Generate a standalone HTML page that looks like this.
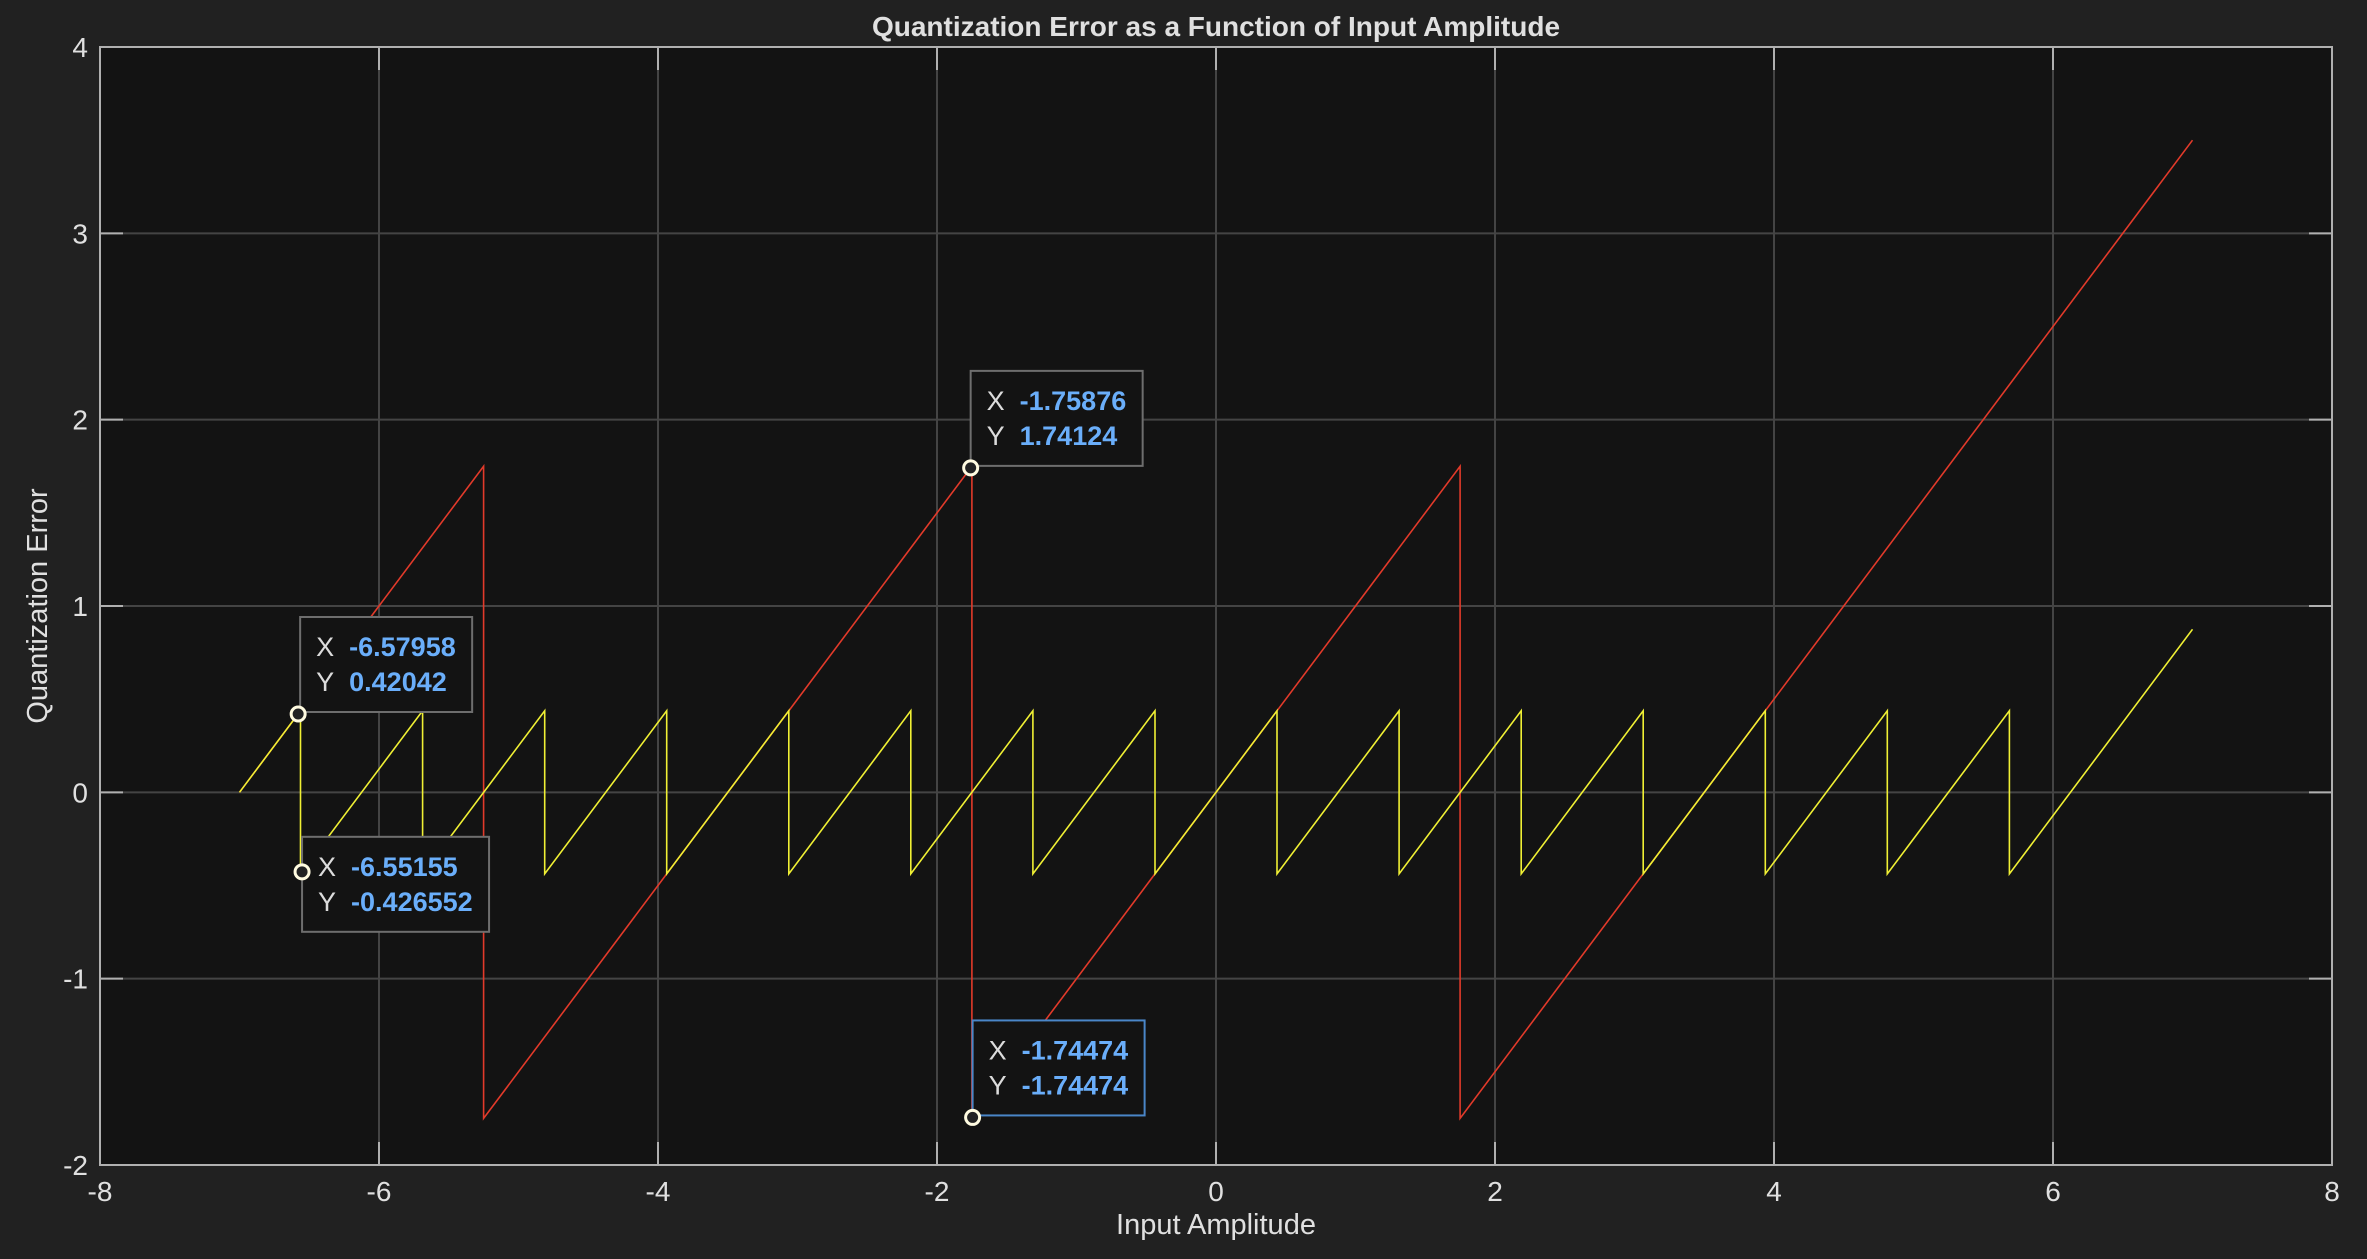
<!DOCTYPE html>
<html><head><meta charset="utf-8">
<style>
html,body{margin:0;padding:0;background:#212121;}
svg{display:block;font-family:"Liberation Sans",Arial,sans-serif;}
</style></head>
<body>
<svg id="chart" width="2367" height="1259" viewBox="0 0 2367 1259" xmlns="http://www.w3.org/2000/svg">
<rect x="0" y="0" width="2367" height="1259" fill="#212121"/>
<rect x="100" y="47" width="2232" height="1118" fill="#131313"/>
<g id="grid"></g>
<g id="series"></g>
<rect x="100" y="47" width="2232" height="1118" fill="none" stroke="#b0b0b0" stroke-width="2"/>
<g id="ticks"></g>
<text x="1216" y="36" text-anchor="middle" fill="#e0e0e0" font-size="28" font-weight="bold">Quantization Error as a Function of Input Amplitude</text>
<text x="1216" y="1234" text-anchor="middle" fill="#e0e0e0" font-size="29">Input Amplitude</text>
<text x="0" y="0" transform="translate(47,606) rotate(-90)" text-anchor="middle" fill="#e0e0e0" font-size="29">Quantization Error</text>
<g id="tips"></g>
</svg>
<script>
const xTicks = [-8,-6,-4,-2,0,2,4,6,8];
const yTicks = [-2,-1,0,1,2,3,4];
const yellowX = [-7,-6.5625,-6.5625,-5.6875,-5.6875,-4.8125,-4.8125,-3.9375,-3.9375,-3.0625,-3.0625,-2.1875,-2.1875,-1.3125,-1.3125,-0.4375,-0.4375,0.4375,0.4375,1.3125,1.3125,2.1875,2.1875,3.0625,3.0625,3.9375,3.9375,4.8125,4.8125,5.6875,5.6875,7];
const yellowY = [0,0.4375,-0.4375,0.4375,-0.4375,0.4375,-0.4375,0.4375,-0.4375,0.4375,-0.4375,0.4375,-0.4375,0.4375,-0.4375,0.4375,-0.4375,0.4375,-0.4375,0.4375,-0.4375,0.4375,-0.4375,0.4375,-0.4375,0.4375,-0.4375,0.4375,-0.4375,0.4375,-0.4375,0.875];
const redX = [-7,-5.25,-5.25,-1.75,-1.75,1.75,1.75,7];
const redY = [0,1.75,-1.75,1.75,-1.75,1.75,-1.75,3.5];
const tipX = [-1.75876,-6.57958,-6.55155,-1.74474];
const tipY = [1.74124,0.42042,-0.426552,-1.74474];
const tipXLabel = ["-1.75876","-6.57958","-6.55155","-1.74474"];
const tipYLabel = ["1.74124","0.42042","-0.426552","-1.74474"];

const NS = "http://www.w3.org/2000/svg";
const L=100,R=2332,T=47,B=1165;
const sx = v => L + (v+8)/16*(R-L);
const sy = v => T + (4-v)/6*(B-T);
function mk(tag, attrs, parent){const e=document.createElementNS(NS,tag);for(const k in attrs)e.setAttribute(k,attrs[k]);parent.appendChild(e);return e;}
const grid=document.getElementById('grid'), ticks=document.getElementById('ticks'), series=document.getElementById('series'), tips=document.getElementById('tips');

xTicks.forEach(v=>{
  const x=sx(v);
  if(v>-8&&v<8){
    const g=mk('line',{x1:x,y1:T,x2:x,y2:B,stroke:'#444444','stroke-width':2},grid);
    
    
  }
  const t1=mk('line',{x1:x,y1:B,x2:x,y2:B-23,stroke:'#b0b0b0','stroke-width':2},ticks);
  
  
  const t2=mk('line',{x1:x,y1:T,x2:x,y2:T+23,stroke:'#b0b0b0','stroke-width':2},ticks);
  
  
  const lb=mk('text',{x:x,y:B+36,'text-anchor':'middle',fill:'#e0e0e0','font-size':28},ticks);
  lb.textContent=v;
  
  
});
yTicks.forEach(v=>{
  const y=sy(v);
  if(v>-2&&v<4){
    const g=mk('line',{x1:L,y1:y,x2:R,y2:y,stroke:'#444444','stroke-width':2},grid);
    
    
  }
  const t1=mk('line',{x1:L,y1:y,x2:L+23,y2:y,stroke:'#b0b0b0','stroke-width':2},ticks);
  
  
  const t2=mk('line',{x1:R,y1:y,x2:R-23,y2:y,stroke:'#b0b0b0','stroke-width':2},ticks);
  
  
  const lb=mk('text',{x:L-12,y:y+10,'text-anchor':'end',fill:'#e0e0e0','font-size':28},ticks);
  lb.textContent=v;
  
  
});

function pts(xs,ys){return xs.map((x,i)=>sx(x).toFixed(1)+','+sy(ys[i]).toFixed(1)).join(' ');}
const red=mk('polyline',{points:pts(redX,redY),fill:'none',stroke:'#e23a2a','stroke-width':1.6},series);


const yel=mk('polyline',{points:pts(yellowX,yellowY),fill:'none',stroke:'#f0f034','stroke-width':1.6},series);



const boxOff=[[0,-97],[2,-97],[0,-35],[0,-97]];
const boxW=[172,172,187,172];
tipX.forEach((v,i)=>{
  const px=sx(v), py=sy(tipY[i]);
  const bx=px+boxOff[i][0], by=py+boxOff[i][1];
  const g=mk('g',{},tips);
  
  
  const r=mk('rect',{x:bx,y:by,width:boxW[i],height:95,fill:'#131313',stroke:i===3?'#4a86c8':'#6e6e6e','stroke-width':2},g);
  
  
  const t1=mk('text',{x:bx+16,y:by+39,fill:'#dcdcdc','font-size':27},g);
  t1.textContent='X';
  
  
  const v1=mk('text',{x:bx+49,y:by+39,fill:'#6aaefa','font-size':27,'font-weight':'bold'},g);
  v1.textContent=tipXLabel[i];
  
  
  const t2=mk('text',{x:bx+16,y:by+74,fill:'#dcdcdc','font-size':27},g);
  t2.textContent='Y';
  
  
  const v2=mk('text',{x:bx+49,y:by+74,fill:'#6aaefa','font-size':27,'font-weight':'bold'},g);
  v2.textContent=tipYLabel[i];
  
  
  const c=mk('circle',{cx:px,cy:py,r:7,fill:'#222',stroke:'#fffbe0','stroke-width':3},g);
  
  
});
</script>
</body></html>
